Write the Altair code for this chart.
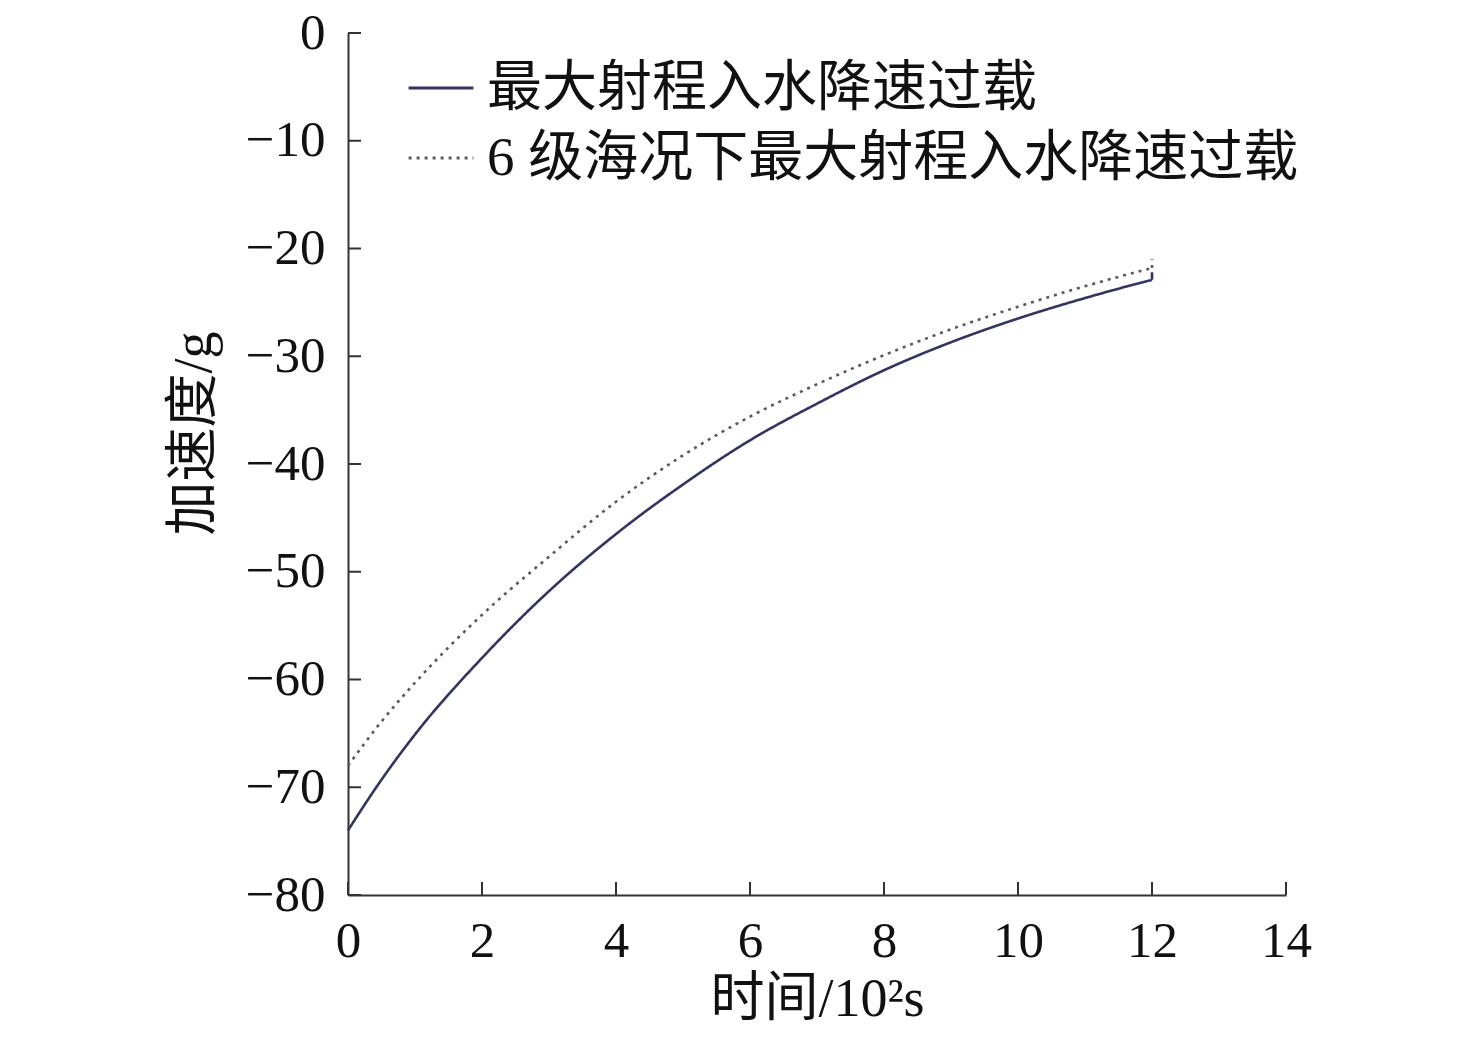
import altair as alt
import pandas as pd

# ---- data ----
t_vals = [0, 0.5, 1, 2, 3, 4, 5, 6, 7, 8, 9, 10, 11, 12]
solid_vals = [-74.0, -69.3, -65.1, -58.0, -51.8, -46.5, -41.9, -37.8, -34.4, -31.3, -28.7, -26.5, -24.6, -22.9]
dotted_vals = [-68.0, -63.9, -60.3, -54.0, -48.6, -43.5, -39.2, -35.6, -32.6, -29.9, -27.5, -25.4, -23.5, -21.8]
end_x = [12, 12]
end_y1 = [-22.9, -21.8]
end_y2 = [-22.2, -21.0]

series_names = ["最大射程入水降速过载", "6 级海况下最大射程入水降速过载"]
series_colors = ["#34345e", "#5a5a5a"]
series_dash = [[1, 0], [3, 5]]

x_ticks = [0, 2, 4, 6, 8, 10, 12, 14]
y_ticks = [0, -10, -20, -30, -40, -50, -60, -70, -80]

rows = []
for t, s, d in zip(t_vals, solid_vals, dotted_vals):
    rows.append({"t": t, "a": s, "series": series_names[0]})
    rows.append({"t": t, "a": d, "series": series_names[1]})
df = pd.DataFrame(rows)

end_df = pd.DataFrame({"t": end_x, "a": end_y1, "a2": end_y2, "series": series_names})
xt_df = pd.DataFrame({"t": x_ticks})
yt_df = pd.DataFrame({"a": y_ticks})

W, H = 938, 862
FONT = "Liberation Serif, Noto Sans CJK SC"

color_scale = alt.Scale(domain=series_names, range=series_colors)
dash_scale = alt.Scale(domain=series_names, range=series_dash)

legend = alt.Legend(
    title=None,
    orient="none",
    legendX=59,
    legendY=21,
    symbolType="stroke",
    symbolSize=4200,
    symbolStrokeWidth=3,
    labelFontSize=55,
    labelFont=FONT,
    labelColor="#111111",
    labelOffset=12,
    rowPadding=8,
    labelLimit=1200,
)

x_axis = alt.Axis(
    values=x_ticks,
    tickSize=0,
    grid=False,
    labelFontSize=51,
    labelFont=FONT,
    labelColor="#111111",
    labelPadding=21,
    title="时间/10²s",
    titleFontSize=54,
    titleFont=FONT,
    titleFontWeight="normal",
    titleColor="#111111",
    titlePadding=6,
    domainColor="#333333",
    domainWidth=2,
    labelFlush=False,
)
y_axis = alt.Axis(
    values=y_ticks,
    tickSize=0,
    grid=False,
    labelFontSize=51,
    labelFont=FONT,
    labelColor="#111111",
    labelPadding=23,
    title="加速度/g",
    titleFontSize=54,
    titleFont=FONT,
    titleFontWeight="normal",
    titleColor="#111111",
    titlePadding=24,
    titleY=400,
    domainColor="#333333",
    domainWidth=2,
    labelFlush=False,
)
x_scale = alt.Scale(domain=[0, 14], nice=False)
y_scale = alt.Scale(domain=[-80, 0], nice=False)


def X():
    return alt.X("t:Q", scale=x_scale, axis=x_axis)


def Y():
    return alt.Y("a:Q", scale=y_scale, axis=y_axis)


lines = alt.Chart(df).mark_line(strokeWidth=2.6, interpolate="monotone").encode(
    x=X(),
    y=Y(),
    color=alt.Color("series:N", scale=color_scale, legend=legend),
    strokeDash=alt.StrokeDash("series:N", scale=dash_scale, legend=legend),
)

ends = alt.Chart(end_df).mark_rule(strokeWidth=2.6).encode(
    x=X(),
    y=Y(),
    y2="a2:Q",
    color=alt.Color("series:N", scale=color_scale, legend=legend),
    strokeDash=alt.StrokeDash("series:N", scale=dash_scale, legend=legend),
)

ytick_marks = alt.Chart(yt_df).mark_rule(color="#333333", strokeWidth=2).encode(
    y=Y(),
    x=alt.value(0),
    x2=alt.value(13),
)

xtick_marks = alt.Chart(xt_df).mark_rule(color="#333333", strokeWidth=2).encode(
    x=X(),
    y=alt.value(H),
    y2=alt.value(H - 13),
)

chart = (
    alt.layer(lines, ends, ytick_marks, xtick_marks)
    .properties(
        width=W,
        height=H,
        autosize=alt.AutoSizeParams(type="none"),
        padding={"left": 340, "top": 25, "right": 150, "bottom": 140},
        background="white",
    )
    .configure_view(stroke=None)
)

chart.save("out.html", embed_options={"renderer": "svg", "actions": False})
